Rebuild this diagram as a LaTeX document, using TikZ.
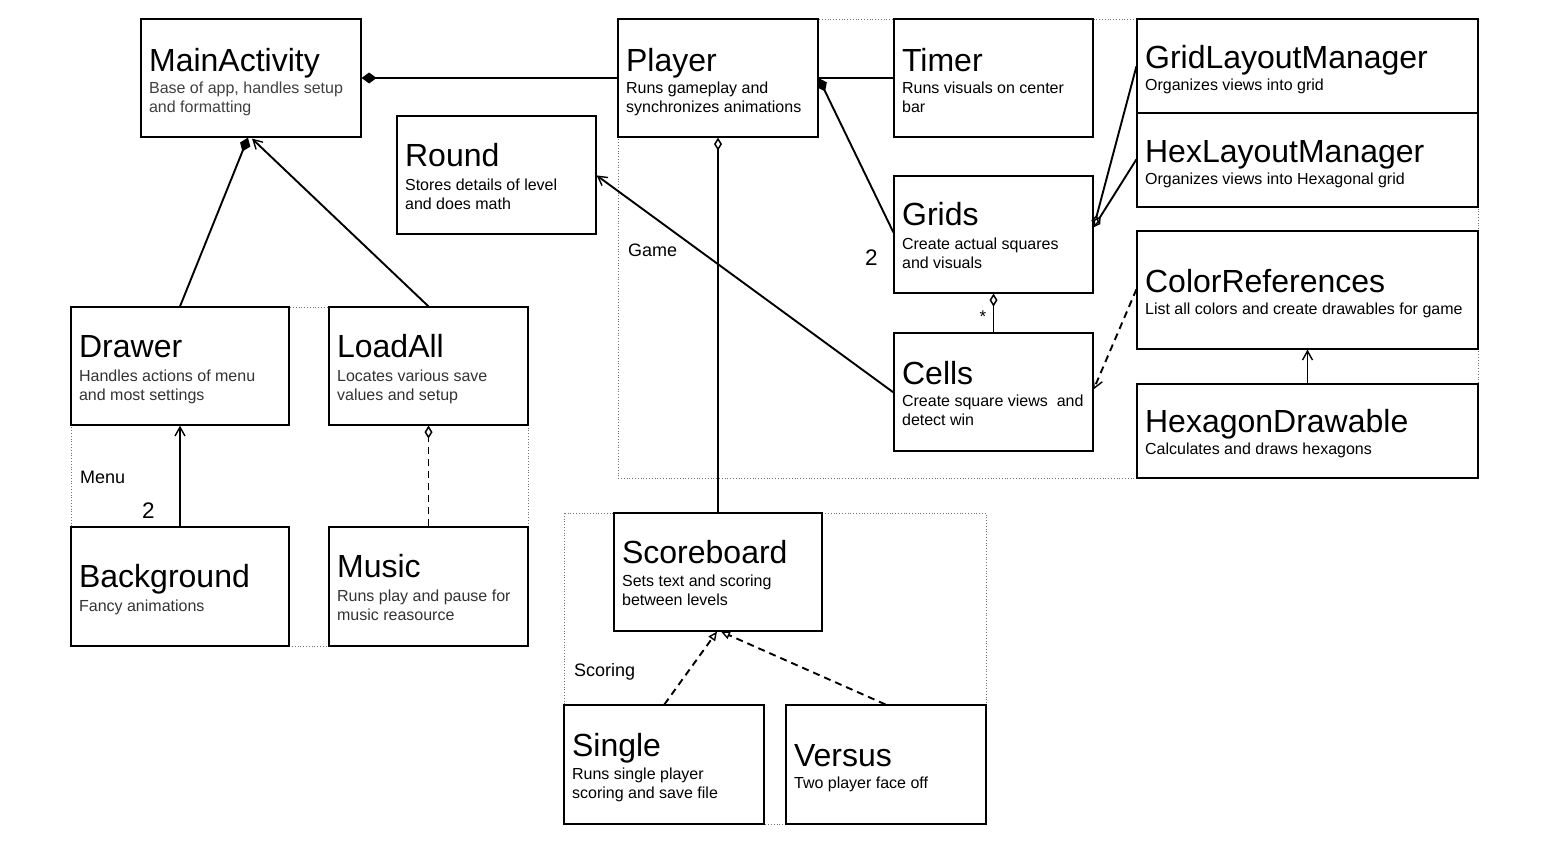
\documentclass[tikz,border=0pt]{standalone}
\usepackage{fontspec}
\setmainfont{Liberation Sans}
\usetikzlibrary{arrows.meta,calc}
\tikzset{
  clsbox/.style={draw=black, line width=1.2pt, fill=white, inner sep=0pt},
  clstitle/.style={anchor=base west, inner sep=0pt, font=\fontsize{32}{38}\selectfont},
  clsdesc/.style={anchor=base west, inner sep=0pt, font=\fontsize{16}{19}\selectfont},
  grp/.style={draw=black!55, line width=0.8pt, dash pattern=on 0.8pt off 2pt},
  grplabel/.style={anchor=base west, inner sep=0pt, font=\fontsize{18}{21}\selectfont},
  mult/.style={anchor=base west, inner sep=0pt, font=\fontsize{22.5}{26}\selectfont},
  conn/.style={line width=1.9pt},
  dsh/.style={line width=1.9pt, dash pattern=on 7pt off 5pt},
  fdia/.tip={Diamond[length=15pt,width=11pt]},
  odia/.tip={Diamond[open,length=13pt,width=8pt,line width=1.5pt]},
  oarr/.tip={Straight Barb[length=9pt,width=10pt,line width=1.4pt]},
  otri/.tip={Triangle[open,length=9pt,width=8pt,line width=1.4pt]},
}
\def\desccol{black}
\newcommand\umlcls[9]{%
  \node[clsbox, minimum width={(#4)-(#2)}, minimum height={(#5)-(#3)}] (#1) at ({((#2)+(#4))/2},{-((#3)+(#5))/2}) {};
  \node[clstitle] (#1t) at ($(#1.north west)+(8.5,-#7)$) {#6};
  \node[clsdesc, text=\desccol] (#1d) at ($(#1.north west)+(8.5,-#9)$) {\parbox[t]{340pt}{\raggedright #8}};
}
\begin{document}
\begin{tikzpicture}[x=1pt,y=1pt]
\useasboundingbox[fill=white] (0,0) rectangle (1563,-849);
% groups
\draw[grp] (618,-19) rectangle (1478,-478);
\draw[grp] (71,-307) rectangle (528,-646);
\draw[grp] (564,-513) rectangle (986,-824);
% classes
\def\desccol{black!75}
\umlcls{main}{141}{19}{361}{137}{MainActivity}{53}{Base of app, handles setup\\and formatting}{75}
\def\desccol{black!80}
\umlcls{drawer}{71}{307}{289}{425}{Drawer}{51}{Handles actions of menu\\and most settings}{75}
\umlcls{loadall}{329}{307}{528}{425}{LoadAll}{51}{Locates various save\\values and setup}{75}
\umlcls{background}{71}{527}{289}{646}{Background}{61}{Fancy animations}{85}
\umlcls{music}{329}{527}{528}{646}{Music}{51}{Runs play and pause for\\music reasource}{75}
\def\desccol{black}
\umlcls{player}{618}{19}{818}{137}{Player}{53}{Runs gameplay and\\synchronizes animations}{75}
\umlcls{timer}{894}{19}{1093}{137}{Timer}{53}{Runs visuals on center\\bar}{75}
\umlcls{glm}{1137}{19}{1478}{113}{GridLayoutManager}{50}{Organizes views into grid}{72}
\umlcls{hlm}{1137}{113}{1478}{207}{HexLayoutManager}{50}{Organizes views into Hexagonal grid}{72}
\umlcls{round}{397}{116}{596}{234}{Round}{51}{Stores details of level\\and does math}{75}
\umlcls{grids}{894}{176}{1093}{293}{Grids}{50}{Create actual squares\\and visuals}{74}
\umlcls{colorref}{1137}{231}{1478}{349}{ColorReferences}{62}{List all colors and create drawables for game}{84}
\umlcls{cells}{894}{333}{1093}{451}{Cells}{52}{Create square views\ \ and\\detect win}{74}
\umlcls{hexdraw}{1137}{384}{1478}{478}{HexagonDrawable}{49}{Calculates and draws hexagons}{71}
\umlcls{scoreboard}{614}{513}{822}{631}{Scoreboard}{51}{Sets text and scoring\\between levels}{74}
\umlcls{single}{564}{705}{764}{824}{Single}{52}{Runs single player\\scoring and save file}{75}
\umlcls{versus}{786}{705}{986}{824}{Versus}{62}{Two player face off}{84}
% labels
\node[grplabel] (gameL) at (628,-256) {Game};
\node[grplabel] (menuL) at (80,-483) {Menu};
\node[grplabel] (scoringL) at (574,-676) {Scoring};
\node[mult] (mgrids) at (865,-265) {2};
\node[mult] (mbg) at (142,-518) {2};
\node[inner sep=0pt, font=\fontsize{17}{20}\selectfont] (mcells) at (983,-317) {*};
% connectors
\draw[conn, -fdia] (player.west) -- (main.east);
\draw[conn, -fdia] (drawer.north) -- ($(main.south)+(-3,0)$);
\draw[conn, -oarr] (loadall.north) -- ($(main.south)+(1,-1)$);
\draw[conn, odia-] (player.south) -- (scoreboard.north);
\draw[conn] (timer.west) -- (player.east);
\draw[conn, fdia-] (player.east) -- ($(grids.north west)+(0,-57)$);
\draw[conn, -oarr] ($(cells.north west)+(0,-60)$) -- ($(round.north east)+(0,-60)$);
\coordinate (gridsR) at ($(grids.north east)+(0,-52)$);
\draw[conn, -odia] ($(glm.north west)+(0,-48)$) -- (gridsR);
\draw[conn, -odia] ($(hlm.north west)+(0,-47)$) -- (gridsR);
\draw[conn, -odia] (cells.north) -- (grids.south);
\draw[dsh, -oarr] ($(colorref.north west)+(0,-59)$) -- ($(cells.north east)+(0,-57)$);
\draw[conn, -oarr] (hexdraw.north) -- (colorref.south);
\draw[conn, -oarr] (background.north) -- (drawer.south);
\draw[dsh, -odia] (music.north) -- (loadall.south);
\draw[dsh, -otri] ($(single.north west)+(101,0)$) -- ($(scoreboard.south)+(-1,0)$);
\draw[dsh, -otri] ($(versus.north west)+(100,0)$) -- ($(scoreboard.south)+(3,0)$);
\end{tikzpicture}
\end{document}
